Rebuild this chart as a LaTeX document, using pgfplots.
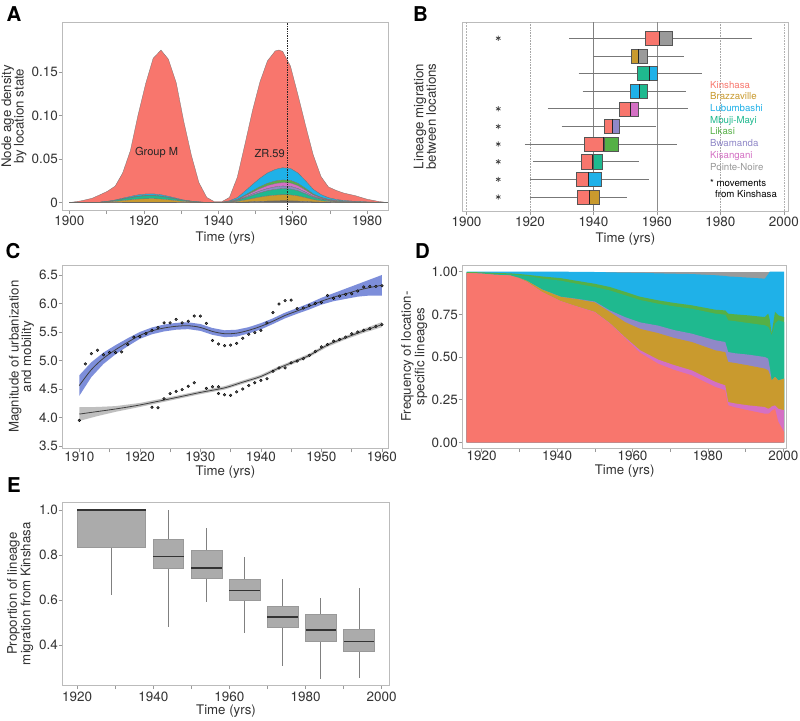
\documentclass[border=0pt]{standalone}
\usepackage{fontspec}
\setmainfont{TeX Gyre Heros}
\usepackage{pgfplots}
\pgfplotsset{compat=1.18}
\usepackage{pgfplotstable}
\usepgfplotslibrary{statistics}

\definecolor{kin}{HTML}{F8766D}
\definecolor{bra}{HTML}{C99A2E}
\definecolor{lub}{HTML}{1FB1E8}
\definecolor{mbu}{HTML}{1FB98F}
\definecolor{lik}{HTML}{55B046}
\definecolor{bwa}{HTML}{9088C8}
\definecolor{kis}{HTML}{D470C4}
\definecolor{pno}{HTML}{9A9A9A}
\definecolor{axgray}{HTML}{BBBBBB}
\definecolor{tickgray}{HTML}{999999}
\definecolor{txt}{HTML}{333333}
\definecolor{bandblue}{HTML}{7D8EDA}
\definecolor{bandgray}{HTML}{BFBFBF}
\definecolor{boxgray}{HTML}{ABABAB}
\definecolor{gridgray}{HTML}{AAAAAA}
\definecolor{whisk}{HTML}{777777}
\definecolor{boxedge}{HTML}{555555}

\pgfplotsset{
  panel/.style={
    scale only axis,
    axis line style={draw=axgray, line width=0.8bp},
    tick style={draw=tickgray, line width=0.6bp},
    tick align=outside, tick pos=left,
    major tick length=4bp, minor tick length=4bp,
    tick label style={font=\fontsize{13.5}{15}\selectfont, text=txt},
    /pgf/number format/assume math mode=true,
    /pgf/number format/1000 sep={},
    scaled ticks=false,
    xticklabel style={anchor=center, inner sep=0pt, yshift=-7bp},
    yticklabel style={anchor=east, inner sep=0pt, xshift=-0.7bp},
    label style={font=\fontsize{13.3}{12.6}\selectfont, text=txt, align=center},
    xlabel style={at={(axis description cs:0.5,-0.15)}, anchor=center},
    ylabel style={at={(axis description cs:-0.15,0.5)}, anchor=center},
  },
}

\newcommand{\brow}[8]{%
  \pgfmathsetmacro\blo{#1-0.4}\pgfmathsetmacro\bhi{#1+0.4}%
  \addplot[draw=whisk, line width=0.6bp] coordinates {(#2,#1) (#6,#1)};
  \addplot[fill=#7, draw=boxedge, line width=0.4bp] coordinates {(#3,\blo) (#4,\blo) (#4,\bhi) (#3,\bhi)} -- cycle;
  \addplot[fill=#8, draw=boxedge, line width=0.4bp] coordinates {(#4,\blo) (#5,\blo) (#5,\bhi) (#4,\bhi)} -- cycle;
  \addplot[draw=black!85, line width=1bp] coordinates {(#4,\blo) (#4,\bhi)};
}

\pgfplotstableread{
x gy go te pu pk gr bl rd
1900.0 0 0 0 0 0 0 0 0
1903.1 0 0 0 0 0 0 0 0.002
1906.1 0 0 0 0 0 0 0 0.005
1908.2 0.000025 0.0002 0.000175 0 0 0.000015 0.000085 0.0085
1910.2 0.000075 0.0006 0.000525 0 0 0.000045 0.000255 0.0115
1912.3 0.00015 0.0012 0.00105 0 0 0.00009 0.00051 0.016
1914.3 0.00025 0.002 0.00175 0 0 0.00015 0.00085 0.029
1916.4 0.00035 0.0028 0.00245 0 0 0.00021 0.00119 0.053
1918.4 0.00044 0.00352 0.00308 0 0 0.000264 0.001496 0.0912
1920.5 0.00049 0.00392 0.00343 0 0 0.000294 0.001666 0.1272
1922.5 0.0005 0.004 0.0035 0 0 0.0003 0.0017 0.156
1924.6 0.00045 0.0036 0.00315 0 0 0.00027 0.00153 0.1665
1926.6 0.00036 0.00288 0.00252 0 0 0.000216 0.001224 0.1578
1928.7 0.00025 0.002 0.00175 0 0 0.00015 0.00085 0.133
1930.7 0.00015 0.0012 0.00105 0 0 0.00009 0.00051 0.091
1932.8 0.000085 0.00068 0.000595 0 0 0.000051 0.000289 0.0523
1934.8 0.00004 0.00032 0.00028 0 0 0.000024 0.000136 0.0222
1936.9 0.000015 0.00012 0.000105 0 0 0.000009 0.000051 0.0057
1938.9 0 0 0 0 0 0 0 0.0012
1941.0 0.00002 0.00007 0.00007 0.00003 0.00004 0.00003 0.00014 0.0008
1943.0 0.0001 0.00035 0.00035 0.00015 0.0002 0.00015 0.0007 0.004
1945.1 0.00028 0.00098 0.00098 0.00042 0.00056 0.00042 0.00196 0.0234
1947.1 0.00064 0.00224 0.00224 0.00096 0.00128 0.00096 0.00448 0.0532
1949.2 0.00104 0.00364 0.00364 0.00156 0.00208 0.00156 0.00728 0.0852
1951.2 0.0014 0.0049 0.0049 0.0021 0.0028 0.0021 0.0098 0.111
1953.2 0.0017 0.00595 0.00595 0.00255 0.0034 0.00255 0.0119 0.129
1955.3 0.0019 0.00665 0.00665 0.00285 0.0038 0.00285 0.0133 0.1365
1956.3 0.00196 0.00686 0.00686 0.00294 0.00392 0.00294 0.01372 0.1364
1957.3 0.002 0.007 0.007 0.003 0.004 0.003 0.014 0.134
1959.4 0.00196 0.00686 0.00686 0.00294 0.00392 0.00294 0.01372 0.1178
1961.4 0.0017 0.00595 0.00595 0.00255 0.0034 0.00255 0.0119 0.090
1963.5 0.00124 0.00434 0.00434 0.00186 0.00248 0.00186 0.00868 0.0632
1965.5 0.00076 0.00266 0.00266 0.00114 0.00152 0.00114 0.00532 0.0398
1967.6 0.00046 0.00161 0.00161 0.00069 0.00092 0.00069 0.00322 0.0208
1969.6 0.00028 0.00098 0.00098 0.00042 0.00056 0.00042 0.00196 0.0124
1971.7 0.00018 0.00063 0.00063 0.00027 0.00036 0.00027 0.00126 0.0104
1973.7 0.00012 0.00042 0.00042 0.00018 0.00024 0.00018 0.00084 0.0086
1976.8 0.00007 0.000245 0.000245 0.000105 0.00014 0.000105 0.00049 0.0066
1979.9 0.00004 0.00014 0.00014 0.00006 0.00008 0.00006 0.00028 0.0032
1982.9 0.00002 0.00007 0.00007 0.00003 0.00004 0.00003 0.00014 0.0011
1985.5 0 0 0 0 0 0 0 0
}\tabA

\pgfplotstableread{
x rd pk go pu te gr bl
1916.0 0.992 0.992 0.992 0.992 0.994 0.998 1.000
1920.0 0.988 0.988 0.988 0.988 0.991 0.996 1.000
1923.0 0.982 0.982 0.982 0.982 0.987 0.993 1.000
1927.5 0.977 0.977 0.978 0.978 0.984 0.990 1.000
1930.0 0.960 0.960 0.963 0.963 0.979 0.986 1.000
1932.0 0.939 0.940 0.946 0.946 0.975 0.982 1.000
1936.0 0.880 0.881 0.895 0.896 0.960 0.972 1.000
1941.0 0.826 0.827 0.852 0.853 0.947 0.962 1.000
1945.0 0.797 0.798 0.840 0.842 0.930 0.947 0.999
1950.0 0.762 0.764 0.820 0.825 0.910 0.929 0.998
1954.0 0.695 0.698 0.764 0.773 0.890 0.910 0.996
1958.0 0.611 0.616 0.705 0.734 0.862 0.882 0.994
1962.0 0.525 0.540 0.665 0.703 0.834 0.853 0.993
1966.8 0.461 0.485 0.640 0.684 0.812 0.832 0.990
1971.0 0.425 0.453 0.612 0.658 0.797 0.817 0.988
1975.7 0.393 0.422 0.588 0.637 0.783 0.803 0.986
1982.0 0.324 0.354 0.539 0.598 0.754 0.777 0.979
1984.6 0.305 0.334 0.529 0.588 0.748 0.773 0.975
1985.4 0.217 0.236 0.471 0.529 0.715 0.754 0.972
1987.2 0.205 0.228 0.465 0.522 0.710 0.750 0.970
1990.7 0.188 0.217 0.451 0.514 0.699 0.744 0.965
1995.1 0.168 0.207 0.432 0.500 0.686 0.734 0.959
1996.0 0.168 0.197 0.422 0.490 0.676 0.754 0.985
1996.4 0.172 0.200 0.400 0.440 0.660 0.720 1.000
1996.9 0.185 0.210 0.363 0.363 0.627 0.637 1.000
1997.8 0.197 0.217 0.383 0.383 0.695 0.764 1.000
1998.7 0.119 0.197 0.363 0.363 0.715 0.744 1.000
2000.2 0.061 0.188 0.373 0.373 0.705 0.734 1.000
}\tabD

\newcommand{\plab}[1]{\fontsize{20.5}{21}\selectfont\bfseries #1}

\begin{document}
\begin{tikzpicture}
\path[use as bounding box, fill=white] (0bp,0bp) rectangle (800bp,-721bp);

% ---------------- A ----------------
\begin{axis}[panel, at={(62.7bp,-210bp)}, anchor=south west,
  width=325.3bp, height=187.3bp,
  xmin=1898.2, xmax=1985.6, ymin=-0.0085, ymax=0.207,
  xtick={1900,1920,1940,1960,1980}, minor xtick={1910,1930,1950,1970},
  ytick={0,0.05,0.10,0.15}, yticklabels={0,0.05,0.10,0.15},
  xlabel={Time (yrs)}, ylabel={Node age density\\by location state},
  xlabel style={at={(axis description cs:0.5,-0.152)}},
  ylabel style={at={(axis description cs:-0.15,0.5)}},
  stack plots=y]
\addplot[fill=black!60, draw=black!60, line width=0.3bp, mark=none] table[x=x,y=gy]{\tabA} \closedcycle;
\addplot[fill=bra, draw=black!55, line width=0.3bp, mark=none] table[x=x,y=go]{\tabA} \closedcycle;
\addplot[fill=mbu, draw=black!55, line width=0.3bp, mark=none] table[x=x,y=te]{\tabA} \closedcycle;
\addplot[fill=bwa, draw=black!55, line width=0.3bp, mark=none] table[x=x,y=pu]{\tabA} \closedcycle;
\addplot[fill=kis, draw=black!55, line width=0.3bp, mark=none] table[x=x,y=pk]{\tabA} \closedcycle;
\addplot[fill=lik, draw=black!55, line width=0.3bp, mark=none] table[x=x,y=gr]{\tabA} \closedcycle;
\addplot[fill=lub, draw=black!55, line width=0.3bp, mark=none] table[x=x,y=bl]{\tabA} \closedcycle;
\addplot[fill=kin, draw=black!55, line width=0.3bp, mark=none] table[x=x,y=rd]{\tabA} \closedcycle;
\end{axis}
\begin{axis}[scale only axis, hide axis, at={(62.7bp,-210bp)}, anchor=south west,
  width=325.3bp, height=187.3bp,
  xmin=1898.2, xmax=1985.6, ymin=-0.0085, ymax=0.207]
\addplot[densely dotted, black!85, line width=0.7bp] coordinates {(1958.5,-0.0085) (1958.5,0.207)};
\node[font=\fontsize{11.1}{12}\selectfont, text=black!85] at (axis cs:1923.4,0.057) {Group M};
\node[font=\fontsize{11.1}{12}\selectfont, text=black!85] at (axis cs:1953.8,0.057) {ZR.59};
\end{axis}

% ---------------- B ----------------
\begin{axis}[panel, at={(462.7bp,-211bp)}, anchor=south west,
  width=325.3bp, height=189bp,
  xmin=1898.8, xmax=2001.3, ymin=0.206, ymax=10.92,
  xtick={1900,1920,1940,1960,1980,2000}, ytick=\empty,
  xlabel={Time (yrs)}, ylabel={Lineage migration\\between locations},
  xlabel style={at={(axis description cs:0.5,-0.15)}},
  ylabel style={at={(axis description cs:-0.116,0.5)}}]
\addplot[draw=black!30, line width=0.5bp, densely dotted] coordinates {(1900,0.206) (1900,10.92)};
\addplot[draw=black!35, line width=0.6bp, densely dotted] coordinates {(1920,0.206) (1920,10.92)};
\addplot[draw=black!50, line width=0.6bp] coordinates {(1940,0.206) (1940,10.92)};
\addplot[draw=black!45, line width=0.6bp] coordinates {(1960,0.206) (1960,10.92)};
\addplot[draw=black!35, line width=0.6bp, densely dotted] coordinates {(1980,0.206) (1980,10.92)};
\addplot[draw=black!30, line width=0.6bp, densely dotted] coordinates {(2000,0.206) (2000,10.92)};
\brow{1}{1920}{1934.9}{1938.6}{1941.7}{1950.5}{kin}{bra}
\brow{2}{1920}{1934.7}{1938.4}{1942.3}{1957.4}{kin}{lub}
\brow{3}{1921}{1936.1}{1939.8}{1942.8}{1954.5}{kin}{mbu}
\brow{4}{1918.4}{1937.2}{1943.3}{1947.7}{1966.3}{kin}{lik}
\brow{5}{1930}{1943.4}{1946}{1948}{1959.8}{kin}{bwa}
\brow{6}{1925.6}{1948.1}{1951.7}{1954}{1969.7}{kin}{kis}
\brow{7}{1936.6}{1951.6}{1954.5}{1956.8}{1969.3}{lub}{mbu}
\brow{8}{1935.3}{1953.8}{1957.5}{1960.2}{1974.2}{mbu}{lub}
\brow{9}{1940}{1951.8}{1954.2}{1956.8}{1968.4}{bra}{pno}
\brow{10}{1932.4}{1956.3}{1960.8}{1964.8}{1989.8}{kin}{pno}
\addplot[only marks, mark=asterisk, mark size=2.6bp, black!75, mark options={line width=0.7bp}]
  coordinates {(1910,1) (1910,2) (1910,3) (1910,4) (1910,5) (1910,6) (1910,10)};
\end{axis}
\node[anchor=north west, inner sep=0pt, align=left, font=\fontsize{9.7}{11.77}\selectfont] at (710bp,-80.8bp)
  {\textcolor{kin}{Kinshasa}\\\textcolor{bra}{Brazzaville}\\\textcolor{lub}{Lubumbashi}\\\textcolor{mbu}{Mbuji-Mayi}\\
   \textcolor{lik}{Likasi}\\\textcolor{bwa}{Bwamanda}\\\textcolor{kis}{Kisangani}\\\textcolor{pno}{Pointe-Noire}\\[4.2bp]
   * movements\\\hspace*{5bp}from Kinshasa};

% ---------------- C ----------------
\begin{axis}[panel, at={(62.7bp,-448.3bp)}, anchor=south west,
  width=325.3bp, height=183.3bp,
  xmin=1907.26, xmax=1961.0, ymin=3.46, ymax=6.675,
  xtick={1910,1920,1930,1940,1950,1960}, minor xtick={1915,1925,1935,1945,1955},
  ytick={3.5,4,4.5,5,5.5,6,6.5},
  xticklabel style={yshift=2.3bp},
  yticklabel style={/pgf/number format/.cd, fixed, fixed zerofill, precision=1},
  xlabel={Time (yrs)}, ylabel={Magnitude of urbanization\\and mobility},
  xlabel style={at={(axis description cs:0.5,-0.130)}},
  ylabel style={at={(axis description cs:-0.127,0.5)}}]
\addplot[fill=bandblue, draw=none] coordinates {
 (1910,4.74) (1912,4.97) (1914,5.14) (1916,5.27) (1918,5.39) (1920,5.50) (1922,5.58) (1924,5.63)
 (1926,5.66) (1928,5.67) (1930,5.64) (1932,5.57) (1934,5.53) (1936,5.54) (1938,5.585) (1940,5.655)
 (1942,5.74) (1944,5.84) (1946,5.92) (1948,6.005) (1950,6.10) (1952,6.18) (1954,6.26) (1956,6.34)
 (1958,6.42) (1960,6.50)
 (1960,6.14) (1958,6.14) (1956,6.12) (1954,6.08) (1952,6.04) (1950,5.98) (1948,5.895) (1946,5.82)
 (1944,5.74) (1942,5.64) (1940,5.545) (1938,5.475) (1936,5.42) (1934,5.41) (1932,5.45) (1930,5.52)
 (1928,5.55) (1926,5.54) (1924,5.51) (1922,5.46) (1920,5.38) (1918,5.25) (1916,5.11) (1914,4.94)
 (1912,4.71) (1910,4.38)} -- cycle;
\addplot[fill=bandgray, draw=none] coordinates {
 (1910,4.18) (1913,4.185) (1916,4.20) (1920,4.255) (1926,4.38) (1930,4.47) (1934,4.55) (1937,4.65)
 (1940,4.75) (1943,4.90) (1946,5.03) (1948,5.12) (1951,5.30) (1954,5.43) (1957,5.555) (1960,5.675)
 (1960,5.585) (1957,5.485) (1954,5.37) (1951,5.24) (1948,5.06) (1946,4.97) (1943,4.84) (1940,4.69)
 (1937,4.59) (1934,4.49) (1930,4.41) (1926,4.32) (1920,4.185) (1916,4.10) (1913,4.025) (1910,3.94)} -- cycle;
\addplot[smooth, draw=black!75, line width=0.8bp] coordinates {
 (1910,4.56) (1912,4.84) (1914,5.04) (1916,5.19) (1918,5.32) (1920,5.44) (1922,5.52) (1924,5.57)
 (1926,5.60) (1928,5.61) (1930,5.58) (1932,5.51) (1934,5.47) (1936,5.48) (1938,5.53) (1940,5.60)
 (1942,5.69) (1944,5.79) (1946,5.87) (1948,5.95) (1950,6.04) (1952,6.11) (1954,6.17) (1956,6.23)
 (1958,6.28) (1960,6.32)};
\addplot[smooth, draw=black!75, line width=0.8bp] coordinates {
 (1910,4.06) (1913,4.105) (1916,4.15) (1920,4.22) (1926,4.35) (1930,4.44) (1934,4.52) (1937,4.62)
 (1940,4.72) (1943,4.87) (1946,5.00) (1948,5.09) (1951,5.27) (1954,5.40) (1957,5.52) (1960,5.63)};
\addplot[only marks, mark=*, mark size=1.35bp, mark options={fill=black!65, draw=none}] coordinates {
 (1911,4.94) (1912,5.12) (1913,5.18) (1914,5.10) (1915,5.14) (1916,5.14) (1917,5.15) (1918,5.28)
 (1919,5.41) (1920,5.42) (1921,5.47) (1922,5.53) (1923,5.58) (1924,5.66) (1925,5.66) (1926,5.72)
 (1927,5.66) (1928,5.69) (1929,5.78) (1930,5.78) (1931,5.65) (1932,5.35) (1933,5.29) (1934,5.26)
 (1935,5.27) (1936,5.30) (1937,5.39) (1938,5.46) (1939,5.49) (1940,5.53) (1941,5.66) (1942,5.84)
 (1943,5.99) (1944,6.05) (1945,6.06) (1946,5.91) (1947,5.92) (1948,5.97) (1949,6.00) (1950,6.02)
 (1951,6.14) (1952,6.09) (1953,6.13) (1954,6.16) (1955,6.17) (1956,6.22) (1957,6.29) (1958,6.30)
 (1959,6.30) (1960,6.31)};
\addplot[only marks, mark=*, mark size=1.35bp, mark options={fill=black!65, draw=none}] coordinates {
 (1910,3.95) (1922,4.18) (1923,4.17) (1924,4.33) (1925,4.42) (1926,4.46) (1927,4.49) (1928,4.55)
 (1929,4.61) (1931,4.51) (1932,4.54) (1933,4.54) (1933,4.42) (1934,4.40) (1935,4.39) (1936,4.45)
 (1937,4.50) (1938,4.56) (1939,4.61) (1940,4.65) (1941,4.68) (1942,4.81) (1943,4.87) (1944,4.87)
 (1945,4.96) (1946,4.99) (1947,5.03) (1948,5.09) (1949,5.16) (1950,5.24) (1951,5.28) (1952,5.34)
 (1953,5.37) (1954,5.41) (1955,5.47) (1956,5.50) (1957,5.53) (1958,5.56) (1959,5.60) (1960,5.63)};
\end{axis}

% ---------------- D ----------------
\begin{axis}[panel, at={(462.7bp,-448bp)}, anchor=south west,
  width=323.8bp, height=183bp,
  xmin=1914.96, xmax=2000.85, ymin=-0.033, ymax=1.039,
  xtick={1920,1940,1960,1980,2000}, minor xtick={1930,1950,1970,1990},
  ytick={0,0.25,0.5,0.75,1},
  xticklabel style={yshift=3bp},
  yticklabel style={/pgf/number format/.cd, fixed, fixed zerofill, precision=2},
  xlabel={Time (yrs)}, ylabel={Frequency of location-\\specific lineages},
  xlabel style={at={(axis description cs:0.5,-0.125)}},
  ylabel style={at={(axis description cs:-0.150,0.5)}}]
\addplot[fill=pno, draw=none] coordinates {(1916,1) (2000.2,1)} \closedcycle;
\addplot[fill=lub, draw=none] table[x=x,y=bl]{\tabD} \closedcycle;
\addplot[fill=lik, draw=none] table[x=x,y=gr]{\tabD} \closedcycle;
\addplot[fill=mbu, draw=none] table[x=x,y=te]{\tabD} \closedcycle;
\addplot[fill=bwa, draw=none] table[x=x,y=pu]{\tabD} \closedcycle;
\addplot[fill=bra, draw=none] table[x=x,y=go]{\tabD} \closedcycle;
\addplot[fill=kis, draw=none] table[x=x,y=pk]{\tabD} \closedcycle;
\addplot[fill=kin, draw=none] table[x=x,y=rd]{\tabD} \closedcycle;
\end{axis}

% ---------------- E ----------------
\begin{axis}[panel, at={(62.7bp,-685bp)}, anchor=south west,
  width=326.6bp, height=182.7bp,
  xmin=1916.2, xmax=2002, ymin=0.222, ymax=1.034,
  xtick={1920,1940,1960,1980,2000}, minor xtick={1930,1950,1970,1990},
  ytick={0.4,0.6,0.8,1.0},
  xticklabel style={yshift=-1bp},
  yticklabel style={/pgf/number format/.cd, fixed, fixed zerofill, precision=1},
  xlabel={Time (yrs)}, ylabel={Proportion of lineage\\migration from Kinshasa},
  xlabel style={at={(axis description cs:0.5,-0.145)}},
  ylabel style={at={(axis description cs:-0.13,0.5)}},
  boxplot/draw direction=y,
  boxplot/whisker extend=0,
  boxplot/every box/.style={fill=boxgray, draw=black!40, line width=0.5bp},
  boxplot/every whisker/.style={draw=black!50, line width=0.6bp},
  boxplot/every median/.style={draw=black!80, line width=1.3bp}]
\addplot[boxplot prepared={draw position=1929, box extend=18, lower whisker=0.622, lower quartile=0.833, median=1.0, upper quartile=1.0, upper whisker=1.0}] coordinates {};
\addplot[boxplot prepared={draw position=1944, box extend=8, lower whisker=0.481, lower quartile=0.741, median=0.794, upper quartile=0.871, upper whisker=1.0}] coordinates {};
\addplot[boxplot prepared={draw position=1954, box extend=8, lower whisker=0.593, lower quartile=0.696, median=0.742, upper quartile=0.819, upper whisker=0.919}] coordinates {};
\addplot[boxplot prepared={draw position=1964, box extend=8, lower whisker=0.455, lower quartile=0.600, median=0.641, upper quartile=0.693, upper whisker=0.793}] coordinates {};
\addplot[boxplot prepared={draw position=1974, box extend=8, lower whisker=0.307, lower quartile=0.477, median=0.524, upper quartile=0.570, upper whisker=0.692}] coordinates {};
\addplot[boxplot prepared={draw position=1984, box extend=8, lower whisker=0.247, lower quartile=0.418, median=0.467, upper quartile=0.535, upper whisker=0.610}] coordinates {};
\addplot[boxplot prepared={draw position=1994, box extend=8, lower whisker=0.255, lower quartile=0.370, median=0.416, upper quartile=0.468, upper whisker=0.655}] coordinates {};
\end{axis}

% panel letters
\node[anchor=north west, inner sep=0pt] at (6.5bp,-6bp) {\plab{A}};
\node[anchor=north west, inner sep=0pt] at (413bp,-6bp) {\plab{B}};
\node[anchor=north west, inner sep=0pt] at (5.5bp,-243bp) {\plab{C}};
\node[anchor=north west, inner sep=0pt] at (415bp,-243bp) {\plab{D}};
\node[anchor=north west, inner sep=0pt] at (7bp,-477bp) {\plab{E}};
\end{tikzpicture}
\end{document}
